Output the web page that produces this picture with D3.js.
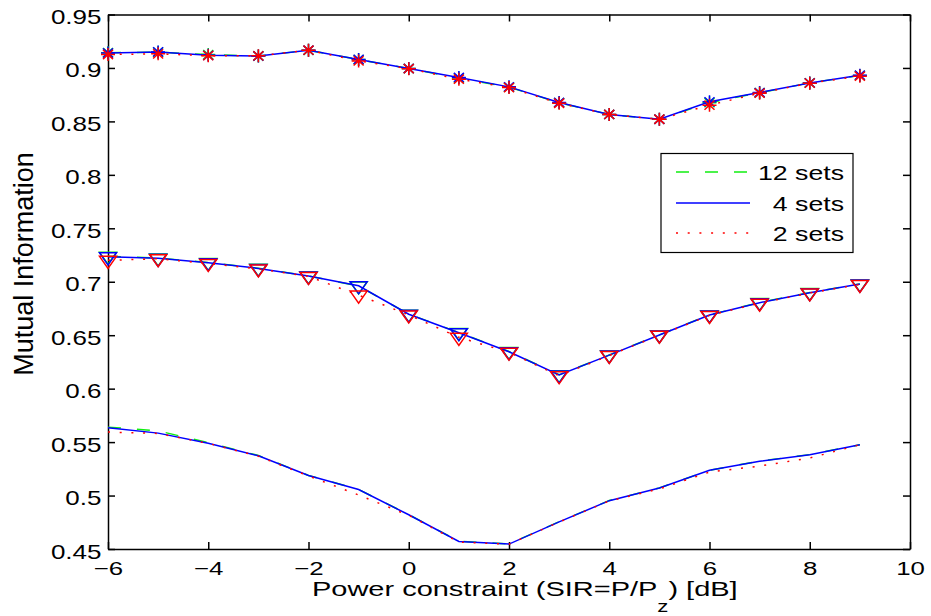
<html>
<head>
<style>
body { margin: 0; background: #ffffff; }
text { font-family: "Liberation Sans", Arial, sans-serif; fill: #000; }
</style>
</head>
<body>
<svg width="931" height="616"></svg>
<script src="https://cdn.jsdelivr.net/npm/d3@7"></script>
<script>
// power constraint in dB (x axis)
var powerDb = [-6, -5, -4, -3, -2, -1, 0, 1, 2, 3, 4, 5, 6, 7, 8, 9]

// upper curve (asterisks)
var top12 = [0.9142, 0.9148, 0.9125, 0.9112, 0.9165, 0.9078, 0.8995, 0.8905, 0.8820, 0.8675, 0.8565, 0.8521, 0.8675, 0.8768, 0.8860, 0.8930]
var top4  = [0.9140, 0.9150, 0.9118, 0.9112, 0.9166, 0.9080, 0.8995, 0.8911, 0.8823, 0.8677, 0.8565, 0.8520, 0.8683, 0.8770, 0.8860, 0.8932]
var top2  = [0.9126, 0.9132, 0.9115, 0.9113, 0.9166, 0.9066, 0.8993, 0.8895, 0.8816, 0.8670, 0.8565, 0.8520, 0.8652, 0.8764, 0.8858, 0.8923]

// middle curve (triangles)
var mid12 = [0.7238, 0.7222, 0.7180, 0.7126, 0.7054, 0.6960, 0.6697, 0.6525, 0.6347, 0.6130, 0.6315, 0.6503, 0.6690, 0.6806, 0.6899, 0.6979]
var mid4  = [0.7233, 0.7219, 0.7178, 0.7125, 0.7053, 0.6962, 0.6696, 0.6523, 0.6345, 0.6128, 0.6314, 0.6502, 0.6689, 0.6804, 0.6898, 0.6978]
var mid2  = [0.7200, 0.7215, 0.7170, 0.7120, 0.7050, 0.6875, 0.6690, 0.6480, 0.6340, 0.6120, 0.6310, 0.6500, 0.6685, 0.6800, 0.6895, 0.6975]

// lower curve (no markers)
var bot12 = [0.5640, 0.5605, 0.5495, 0.5375, 0.5188, 0.5057, 0.4821, 0.4572, 0.4547, 0.4755, 0.4953, 0.5071, 0.5237, 0.5322, 0.5383, 0.5475]
var bot4  = [0.5634, 0.5584, 0.5490, 0.5372, 0.5187, 0.5056, 0.4820, 0.4571, 0.4546, 0.4754, 0.4952, 0.5070, 0.5236, 0.5320, 0.5382, 0.5475]
var bot2  = [0.5594, 0.5581, 0.5488, 0.5368, 0.5183, 0.5005, 0.4815, 0.4565, 0.4545, 0.4752, 0.4950, 0.5062, 0.5220, 0.5276, 0.5351, 0.5475]

var xTicks = [-6, -4, -2, 0, 2, 4, 6, 8, 10]
var xTickLabels = ["\u22126", "\u22124", "\u22122", "0", "2", "4", "6", "8", "10"]
var yTicks = [0.45, 0.5, 0.55, 0.6, 0.65, 0.7, 0.75, 0.8, 0.85, 0.9, 0.95]
var yTickLabels = ["0.45", "0.5", "0.55", "0.6", "0.65", "0.7", "0.75", "0.8", "0.85", "0.9", "0.95"]
var legendLabels = ["12 sets", "4 sets", "2 sets"]

var svg = d3.select("svg"),
	padL = 108, padR = 910, padT = 14.5, padB = 549,
	sx = 1.3  // picture is stretched sideways, so is the text

var x = d3.scaleLinear().domain([-6, 10]).range([padL, padR])
var y = d3.scaleLinear().domain([0.45, 0.95]).range([padB, padT])

// styles for 12 / 4 / 2 sets
var styles = [
	{color: "#11ee11", dash: "13,16"},
	{color: "#0000ff", dash: null},
	{color: "#ff0000", dash: "2,9.7"}
]

var line = d3.line()
	.x(function(d, i) { return x(powerDb[i]) })
	.y(function(d) { return y(d) })

var starPath = "M-7,0H7M0,-6.5V6.5M-5,-4.6L5,4.6M-5,4.6L5,-4.6"
var triPath = "M-8.5,-4L8.5,-4L0,8Z"

// axes (ticks inside, on all four sides)
svg.append("g")
	.attr("transform", "translate(0," + padB + ")")
	.call(d3.axisBottom(x).tickValues(xTicks).tickSizeInner(-7).tickSizeOuter(0)
		.tickFormat(function(d, i) { return xTickLabels[i] }))
	.call(function(g) {
		g.selectAll("text")
			.attr("y", 26.5).attr("dy", null)
			.attr("transform", "scale(1.36,1)")
			.style("font-size", "19px")
	})
svg.append("g")
	.attr("transform", "translate(" + padL + ",0)")
	.call(d3.axisLeft(y).tickValues(yTicks).tickSizeInner(-7).tickSizeOuter(0)
		.tickFormat(function(d, i) { return yTickLabels[i] }))
	.call(function(g) {
		g.selectAll("text")
			.attr("x", -6.5 / sx).attr("dy", "0.45em")
			.attr("transform", "scale(" + sx + ",1)")
			.style("font-size", "20px")
	})
svg.append("g")
	.attr("transform", "translate(0," + padT + ")")
	.call(d3.axisTop(x).tickValues(xTicks).tickSizeInner(-7).tickSizeOuter(0).tickFormat(""))
svg.append("g")
	.attr("transform", "translate(" + padR + ",0)")
	.call(d3.axisRight(y).tickValues(yTicks).tickSizeInner(-7).tickSizeOuter(0).tickFormat(""))

svg.selectAll(".domain, .tick line")
	.attr("stroke", "#000")
	.attr("stroke-width", 1.5)

// curves
var groups = [
	{sets: [top12, top4, top2], marker: starPath},
	{sets: [mid12, mid4, mid2], marker: triPath},
	{sets: [bot12, bot4, bot2], marker: null}
]

groups.forEach(function(grp) {
	grp.sets.forEach(function(vals, k) {
		var st = styles[k]
		svg.append("path")
			.datum(vals)
			.attr("d", line)
			.attr("fill", "none")
			.attr("stroke", st.color)
			.attr("stroke-width", 1.5)
			.attr("stroke-dasharray", st.dash)
		if (grp.marker) {
			svg.append("g").selectAll("path")
				.data(vals)
				.enter().append("path")
				.attr("transform", function(d, i) { return "translate(" + x(powerDb[i]) + "," + y(d) + ")" })
				.attr("d", grp.marker)
				.attr("fill", "none")
				.attr("stroke", st.color)
				.attr("stroke-width", 1.5)
		}
	})
})

// axis titles
var xl = svg.append("text")
	.attr("transform", "translate(312,596) scale(1.38,1)")
	.style("font-size", "21px")
xl.append("tspan").text("Power constraint (SIR=P/P")
xl.append("tspan").attr("dy", 16).style("font-size", "16px").text("z")
xl.append("tspan").attr("dy", -16).text(") [dB]")

svg.append("text")
	.attr("transform", "translate(33,264) rotate(-90)")
	.attr("text-anchor", "middle")
	.style("font-size", "27px")
	.text("Mutual Information")

// legend
var legend = svg.append("g")
legend.append("rect")
	.attr("x", 661).attr("y", 153.5)
	.attr("width", 192).attr("height", 99)
	.attr("fill", "#fff").attr("stroke", "#000").attr("stroke-width", 1.2)

var rowY = [172, 203, 233]
legendLabels.forEach(function(lbl, k) {
	legend.append("line")
		.attr("x1", 676).attr("x2", 750)
		.attr("y1", rowY[k]).attr("y2", rowY[k])
		.attr("stroke", styles[k].color)
		.attr("stroke-width", 1.5)
		.attr("stroke-dasharray", styles[k].dash)
	legend.append("text")
		.attr("transform", "translate(844," + (rowY[k] + 8) + ") scale(1.27,1)")
		.attr("text-anchor", "end")
		.style("font-size", "21px")
		.text(lbl)
})
</script>
</body>
</html>
